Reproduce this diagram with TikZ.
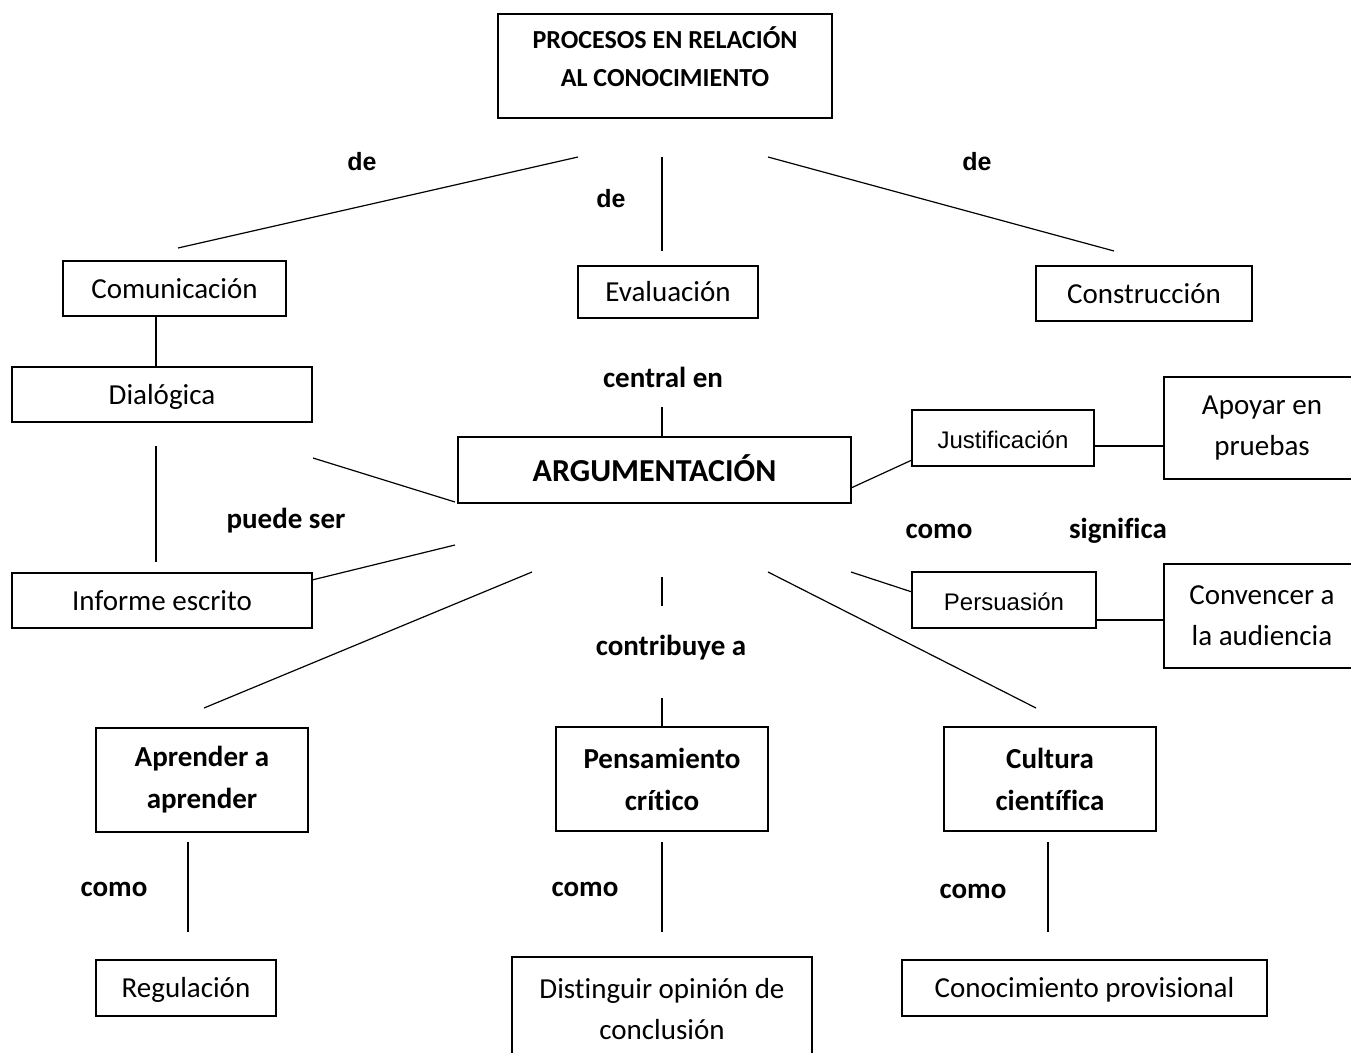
\documentclass[tikz,border=0pt]{standalone}
\usepackage{fontspec}
\setmainfont{Carlito}[Ligatures={NoCommon}]
\newfontfamily\arialfont{Liberation Sans}[Ligatures={NoCommon}]
\usetikzlibrary{positioning}

\begin{document}
\begin{tikzpicture}[x=1pt,y=-1pt,
    caja/.style={draw=black, rectangle, line width=2pt, inner sep=0pt, align=center, font=\fontsize{29}{41}\selectfont},
    cajal/.style={caja, text height=25pt, text depth=6pt},
    cajab/.style={caja, font=\fontsize{29}{42}\selectfont\bfseries},
    cajaa/.style={caja, font=\fontsize{24}{30}\selectfont\arialfont, text height=26pt, text depth=5pt},
    rotulo/.style={inner sep=0pt, font=\fontsize{29}{35}\selectfont\bfseries},
    rotuloa/.style={inner sep=0pt, font=\fontsize{25}{30}\selectfont\arialfont\bfseries},
    linea/.style={line width=1.2pt}]
    \useasboundingbox (0,0) rectangle (1351,1052);

    % cajas
    \node[caja, minimum width=334, minimum height=104, font=\fontsize{26}{38}\selectfont\bfseries] (procesos) at (665,66) {PROCESOS EN RELACIÓN\\AL CONOCIMIENTO\\[-20pt]};
    \node[cajal, minimum width=223, minimum height=55] (comunicacion) at (174.5,288.5) {Comunicación};
    \node[cajal, minimum width=180, minimum height=52] (evaluacion) at (668,292) {Evaluación};
    \node[cajal, minimum width=216, minimum height=55] (construccion) at (1144,293.5) {Construcción};
    \node[cajal, minimum width=300, minimum height=55] (dialogica) at (162,394.5) {Dialógica};
    \node[caja, minimum width=393, minimum height=66, text height=28pt, text depth=6pt, font=\fontsize{32}{38}\selectfont\bfseries] (argumentacion) at (654.5,470) {ARGUMENTACIÓN};
    \node[cajaa, minimum width=182, minimum height=56] (justificacion) at (1003,438) {Justificación};
    \node[caja, minimum width=196, minimum height=102] (apoyar) at (1262,428) {Apoyar en\\pruebas};
    \node[cajaa, minimum width=184, minimum height=56] (persuasion) at (1004,600) {Persuasión};
    \node[caja, minimum width=196, minimum height=104] (convencer) at (1262,616) {Convencer a\\la audiencia};
    \node[cajal, minimum width=300, minimum height=55] (informe) at (162,600.5) {Informe escrito};
    \node[cajab, minimum width=212, minimum height=104] (aprender) at (202,780) {Aprender a\\aprender};
    \node[cajab, minimum width=212, minimum height=104] (pensamiento) at (662,779) {Pensamiento\\crítico};
    \node[cajab, minimum width=212, minimum height=104] (cultura) at (1050,779) {Cultura\\científica};
    \node[cajal, minimum width=180, minimum height=56] (regulacion) at (186,988) {Regulación};
    \node[caja, minimum width=300, minimum height=105] (distinguir) at (662,1009.5) {Distinguir opinión de\\conclusión};
    \node[cajal, minimum width=365, minimum height=56] (conocimiento) at (1084.5,988) {Conocimiento provisional};

    % rotulos
    \node[rotuloa] (de1) at (362,162) {de};
    \node[rotuloa] (de2) at (611,199) {de};
    \node[rotuloa] (de3) at (977,162) {de};
    \node[rotulo] (central) at (663,377) {central en};
    \node[rotulo] (puede) at (286,521) {puede ser};
    \node[rotulo] (como1) at (939,531) {como};
    \node[rotulo] (significa) at (1118,531) {significa};
    \node[rotulo] (contribuye) at (671,648) {contribuye a};
    \node[rotulo] (como2) at (114,889) {como};
    \node[rotulo] (como3) at (585,889) {como};
    \node[rotulo] (como4) at (973,891) {como};

    % extremos de las lineas
    \coordinate (p1) at (578,157);  \coordinate (p2) at (178,248);
    \coordinate (p3) at (662,157);  \coordinate (p4) at (662,251);
    \coordinate (p5) at (768,157);  \coordinate (p6) at (1114,251);
    \coordinate (p7) at (156,316);  \coordinate (p8) at (156,367);
    \coordinate (p9) at (662,407);  \coordinate (p10) at (662,437);
    \coordinate (p11) at (313,458); \coordinate (p12) at (455,502);
    \coordinate (p13) at (156,446); \coordinate (p14) at (156,562);
    \coordinate (p15) at (455,545); \coordinate (p16) at (312,580);
    \coordinate (p17) at (532,572); \coordinate (p18) at (204,708);
    \coordinate (p19) at (662,577); \coordinate (p20) at (662,606);
    \coordinate (p21) at (662,698); \coordinate (p22) at (662,728);
    \coordinate (p23) at (768,572); \coordinate (p24) at (1036,708);
    \coordinate (p25) at (851,488); \coordinate (p26) at (912,460);
    \coordinate (p27) at (851,572); \coordinate (p28) at (912,592);
    \coordinate (p29) at (1094,446); \coordinate (p30) at (1164,446);
    \coordinate (p31) at (1096,620); \coordinate (p32) at (1164,620);
    \coordinate (p33) at (188,842); \coordinate (p34) at (188,932);
    \coordinate (p35) at (662,842); \coordinate (p36) at (662,932);
    \coordinate (p37) at (1048,842); \coordinate (p38) at (1048,932);

    % lineas
    \foreach \a/\b in {p1/p2, p3/p4, p5/p6, p7/p8, p9/p10, p11/p12, p13/p14,
        p15/p16, p17/p18, p19/p20, p21/p22, p23/p24, p25/p26, p27/p28,
        p29/p30, p31/p32, p33/p34, p35/p36, p37/p38}
        \draw[linea] (\a) -- (\b);
\end{tikzpicture}
\end{document}
